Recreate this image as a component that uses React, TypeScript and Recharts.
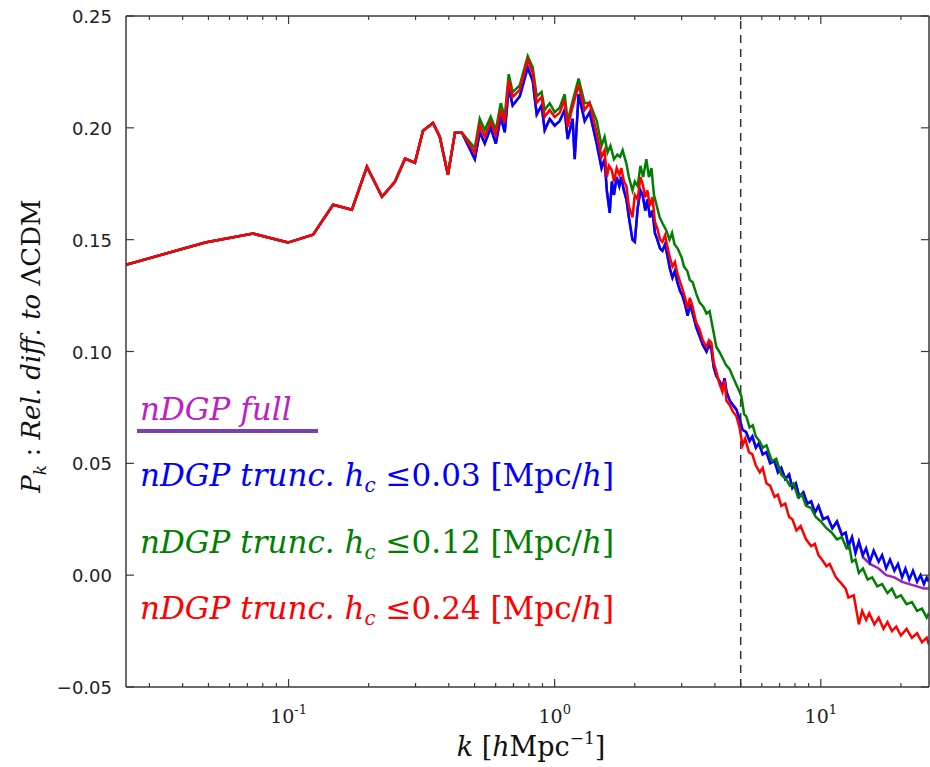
import { LineChart, Line, XAxis, YAxis, ReferenceLine } from "recharts";

type Pt = [number, number];

// k [h/Mpc], relative difference — identical for all runs at large scales
const sharedLowK: Pt[] = [
  [0.0245, 0.1388], [0.0486, 0.1487], [0.0736, 0.1527], [0.0995, 0.1487],
  [0.1236, 0.1522], [0.147, 0.1656], [0.173, 0.1634], [0.197, 0.1826],
  [0.2244, 0.1692], [0.251, 0.1759], [0.274, 0.1862], [0.2985, 0.1844],
  [0.32, 0.1987], [0.349, 0.2022], [0.37, 0.196], [0.397, 0.179],
  [0.422, 0.1978], [0.448, 0.1978],
];

const blueTail: Pt[] = [
  [0.501, 0.186], [0.523, 0.198], [0.546, 0.193], [0.575, 0.2], [0.601, 0.193],
  [0.627, 0.205], [0.649, 0.198], [0.672, 0.218], [0.695, 0.21], [0.739, 0.214],
  [0.792, 0.227], [0.827, 0.221], [0.856, 0.206], [0.893, 0.21], [0.917, 0.199],
  [0.958, 0.204], [1.0, 0.201], [1.044, 0.203], [1.09, 0.208], [1.119, 0.195],
  [1.168, 0.204], [1.189, 0.186], [1.23, 0.215], [1.296, 0.203], [1.353, 0.207],
  [1.438, 0.193], [1.5, 0.182], [1.54, 0.186], [1.57, 0.172], [1.61, 0.162],
  [1.64, 0.176], [1.67, 0.17], [1.71, 0.178], [1.75, 0.174], [1.78, 0.178],
  [1.82, 0.172], [1.86, 0.168], [1.9, 0.16], [1.96, 0.15], [2.0, 0.149],
  [2.05, 0.164], [2.1, 0.172], [2.14, 0.17], [2.19, 0.163], [2.23, 0.168],
  [2.28, 0.16], [2.33, 0.163], [2.38, 0.153], [2.43, 0.15], [2.49, 0.146],
  [2.54, 0.145], [2.6, 0.148], [2.65, 0.143], [2.71, 0.137], [2.77, 0.133],
  [2.83, 0.136], [2.89, 0.131], [2.96, 0.127], [3.02, 0.125], [3.09, 0.121],
  [3.16, 0.116], [3.22, 0.121], [3.3, 0.117], [3.4, 0.111], [3.5, 0.107],
  [3.6, 0.103], [3.72, 0.1], [3.8, 0.103], [3.88, 0.101], [3.96, 0.093],
  [4.05, 0.089], [4.15, 0.087], [4.27, 0.084], [4.35, 0.088], [4.42, 0.082],
  [4.55, 0.078], [4.68, 0.076], [4.82, 0.074], [4.95, 0.07], [5.08, 0.065],
  [5.24, 0.064], [5.4, 0.06], [5.53, 0.062], [5.7, 0.057], [5.85, 0.059],
  [6.05, 0.054], [6.25, 0.055], [6.45, 0.05], [6.7, 0.051], [6.9, 0.046],
  [7.1, 0.048], [7.35, 0.043], [7.6, 0.045], [7.82, 0.039], [8.06, 0.041],
  [8.3, 0.035], [8.6, 0.037], [8.9, 0.032], [9.2, 0.033], [9.5, 0.028],
  [9.8, 0.031], [10.2, 0.025], [10.6, 0.026], [11.05, 0.021], [11.5, 0.024],
  [12.0, 0.018], [12.4, 0.019], [12.7, 0.013], [13.1, 0.017], [13.5, 0.01],
  [13.9, 0.015], [14.4, 0.009], [14.8, 0.012], [15.3, 0.006], [15.8, 0.011],
  [16.5, 0.006], [17.0, 0.009], [17.6, 0.003], [18.2, 0.007], [18.9, 0.002],
  [19.5, 0.005], [20.2, -0.001], [20.8, 0.003], [21.5, -0.002], [22.2, 0.002],
  [23.0, -0.003], [23.7, 0.0], [24.4, -0.004], [25.0, -0.001], [25.5, -0.003],
];

// the full run sits under the blue curve; it only peeks out at the smallest scales
const fullEnd: Pt[] = [
  [14.4, 0.008], [15.3, 0.005], [16.5, 0.003], [17.6, 0.0], [18.9, -0.001],
  [20.2, -0.003], [21.5, -0.004], [23.0, -0.005], [24.4, -0.006], [25.5, -0.006],
];
const fullTail: Pt[] = [...blueTail.filter(([k]) => k < 14), ...fullEnd];

const greenTail: Pt[] = [
  [0.501, 0.191], [0.523, 0.204], [0.546, 0.199], [0.575, 0.205], [0.601, 0.199],
  [0.627, 0.211], [0.649, 0.205], [0.672, 0.224], [0.695, 0.216], [0.739, 0.219],
  [0.792, 0.232], [0.827, 0.227], [0.856, 0.214], [0.893, 0.216], [0.917, 0.208],
  [0.958, 0.211], [1.0, 0.207], [1.044, 0.209], [1.09, 0.215], [1.119, 0.203],
  [1.168, 0.212], [1.23, 0.222], [1.296, 0.211], [1.353, 0.2112], [1.44, 0.203],
  [1.5, 0.192], [1.54, 0.196], [1.58, 0.189], [1.62, 0.192], [1.67, 0.186],
  [1.72, 0.188], [1.76, 0.187], [1.8, 0.19], [1.86, 0.184], [1.9, 0.178],
  [1.96, 0.172], [2.0, 0.176], [2.05, 0.174], [2.1, 0.183], [2.15, 0.178],
  [2.21, 0.186], [2.26, 0.178], [2.31, 0.182], [2.36, 0.17], [2.42, 0.165],
  [2.48, 0.16], [2.55, 0.157], [2.63, 0.154], [2.7, 0.15], [2.76, 0.153],
  [2.82, 0.148], [2.9, 0.146], [3.0, 0.142], [3.06, 0.138], [3.15, 0.136],
  [3.22, 0.132], [3.3, 0.131], [3.4, 0.126], [3.5, 0.122], [3.62, 0.12],
  [3.72, 0.117], [3.82, 0.118], [3.92, 0.111], [4.05, 0.102], [4.15, 0.1],
  [4.28, 0.097], [4.4, 0.094], [4.55, 0.092], [4.66, 0.089], [4.82, 0.085],
  [4.95, 0.082], [5.03, 0.08], [5.15, 0.072], [5.25, 0.071], [5.4, 0.066],
  [5.55, 0.067], [5.7, 0.062], [5.88, 0.06], [6.05, 0.057], [6.25, 0.058],
  [6.55, 0.051], [6.8, 0.052], [7.1, 0.045], [7.4, 0.043], [7.65, 0.04],
  [7.9, 0.041], [8.2, 0.035], [8.5, 0.036], [8.8, 0.031], [9.2, 0.03],
  [9.57, 0.026], [10.0, 0.024], [10.5, 0.021], [11.0, 0.019], [11.5, 0.016],
  [12.0, 0.017], [12.5, 0.012], [12.8, 0.013], [13.1, 0.006], [13.5, 0.007],
  [13.9, 0.001], [14.4, 0.003], [15.0, -0.002], [15.6, -0.001], [16.3, -0.005],
  [17.0, -0.004], [17.8, -0.008], [18.5, -0.006], [19.2, -0.01], [20.0, -0.009],
  [21.0, -0.013], [22.0, -0.012], [23.0, -0.016], [24.0, -0.015], [25.0, -0.019],
  [25.5, -0.017],
];

const redTail: Pt[] = [
  [0.501, 0.1888], [0.523, 0.2013], [0.546, 0.196], [0.575, 0.2027], [0.601, 0.1969],
  [0.627, 0.208], [0.649, 0.2022], [0.672, 0.2214], [0.695, 0.2138], [0.739, 0.217],
  [0.792, 0.2304], [0.827, 0.2246], [0.856, 0.2112], [0.893, 0.2138], [0.917, 0.2049],
  [0.958, 0.208], [1.0, 0.2049], [1.044, 0.2067], [1.09, 0.2125], [1.119, 0.2004],
  [1.168, 0.2094], [1.23, 0.2192], [1.296, 0.208], [1.353, 0.2112], [1.438, 0.1978],
  [1.5, 0.187], [1.54, 0.19], [1.57, 0.178], [1.6, 0.183], [1.64, 0.181],
  [1.67, 0.176], [1.71, 0.182], [1.75, 0.179], [1.78, 0.182], [1.82, 0.176],
  [1.86, 0.174], [1.9, 0.165], [1.96, 0.16], [2.0, 0.17], [2.05, 0.168],
  [2.1, 0.178], [2.14, 0.175], [2.19, 0.169], [2.23, 0.172], [2.28, 0.165],
  [2.33, 0.169], [2.38, 0.158], [2.43, 0.155], [2.49, 0.15], [2.54, 0.149],
  [2.6, 0.152], [2.65, 0.147], [2.71, 0.142], [2.77, 0.138], [2.83, 0.14],
  [2.89, 0.135], [2.96, 0.131], [3.02, 0.128], [3.09, 0.124], [3.16, 0.119],
  [3.22, 0.124], [3.3, 0.12], [3.4, 0.113], [3.5, 0.11], [3.6, 0.105],
  [3.72, 0.102], [3.8, 0.105], [3.88, 0.104], [3.96, 0.095], [4.05, 0.091],
  [4.15, 0.086], [4.27, 0.082], [4.35, 0.087], [4.42, 0.078], [4.55, 0.076],
  [4.68, 0.073], [4.82, 0.071], [4.95, 0.066], [5.08, 0.058], [5.2, 0.061],
  [5.37, 0.055], [5.53, 0.054], [5.7, 0.049], [5.9, 0.046], [6.05, 0.048],
  [6.25, 0.041], [6.45, 0.04], [6.7, 0.035], [6.9, 0.036], [7.1, 0.031],
  [7.35, 0.032], [7.6, 0.026], [7.82, 0.025], [8.1, 0.02], [8.4, 0.022],
  [8.8, 0.016], [9.2, 0.013], [9.5, 0.014], [9.8, 0.009], [10.1, 0.007],
  [10.5, 0.004], [10.8, 0.005], [11.4, -0.001], [12.0, -0.004], [12.4, -0.006],
  [12.7, -0.01], [13.3, -0.009], [13.9, -0.022], [14.3, -0.016], [14.8, -0.02],
  [15.2, -0.017], [15.9, -0.022], [16.5, -0.019], [17.2, -0.024], [17.8, -0.021],
  [18.5, -0.025], [19.2, -0.023], [20.0, -0.027], [21.0, -0.024], [22.0, -0.028],
  [23.0, -0.026], [24.0, -0.03], [25.0, -0.028], [25.5, -0.031],
];

const kDomain: [number, number] = [0.0245, 25.5];
const yDomain: [number, number] = [-0.05, 0.25];
const yTicks = [-0.05, 0, 0.05, 0.1, 0.15, 0.2, 0.25];
const decadeTicks = [0.1, 1, 10];
const minorTicks = [
  0.03, 0.04, 0.05, 0.06, 0.07, 0.08, 0.09,
  0.2, 0.3, 0.4, 0.5, 0.6, 0.7, 0.8, 0.9,
  2, 3, 4, 5, 6, 7, 8, 9, 20,
];
const xTicks = [...decadeTicks, ...minorTicks].sort((a, b) => a - b);
const kCut = 5; // dashed vertical line

const AXIS = "#3a3a3a";
const SERIF = "'DejaVu Serif', 'Liberation Serif', serif";
const SANS = "'DejaVu Sans', sans-serif";

const rows = (tail: Pt[]) => [...sharedLowK, ...tail].map(([k, v]) => ({ k, v }));

function BottomTick({ x, y, payload }: any) {
  const major = decadeTicks.includes(payload.value);
  const exp = Math.round(Math.log10(payload.value));
  return (
    <g>
      <line x1={x} x2={x} y1={y} y2={y - (major ? 8 : 4)} stroke={AXIS} strokeWidth={1.2} />
      {major && (
        <text x={x} y={y + 36} textAnchor="middle" fontFamily={SERIF} fontSize={19} fill="#222">
          10
          <tspan dy={-9} fontSize={13}>{exp}</tspan>
        </text>
      )}
    </g>
  );
}

function TopTick({ x, y, payload }: any) {
  const major = decadeTicks.includes(payload.value);
  return <line x1={x} x2={x} y1={y} y2={y + (major ? 8 : 4)} stroke={AXIS} strokeWidth={1.2} />;
}

function LeftTick({ x, y, payload }: any) {
  const v: number = payload.value;
  const label = (v < 0 ? "\u2212" : "") + Math.abs(v).toFixed(2);
  return (
    <g>
      <line x1={x} x2={x + 8} y1={y} y2={y} stroke={AXIS} strokeWidth={1.2} />
      <text x={x - 14} y={y + 7} textAnchor="end" fontFamily={SANS} fontSize={18} fill="#222">
        {label}
      </text>
    </g>
  );
}

function RightTick({ x, y }: any) {
  return <line x1={x} x2={x - 8} y1={y} y2={y} stroke={AXIS} strokeWidth={1.2} />;
}

const legend = [
  { color: "#0000ff", value: "0.03" },
  { color: "#008000", value: "0.12" },
  { color: "#ff0000", value: "0.24" },
];

export default function App() {
  return (
    <div style={{ position: "absolute", left: 0, top: 0, width: 930, height: 767, background: "#fff" }}>
      <LineChart width={930} height={767} margin={{ top: 0, right: 0, bottom: 0, left: 0 }}>
        <XAxis
          dataKey="k"
          type="number"
          scale="log"
          domain={kDomain}
          allowDataOverflow
          ticks={xTicks}
          interval={0}
          height={80}
          tickSize={0}
          tickMargin={0}
          tickLine={false}
          tick={<BottomTick />}
          axisLine={{ stroke: AXIS, strokeWidth: 1.5 }}
        />
        <XAxis
          xAxisId="top"
          orientation="top"
          dataKey="k"
          type="number"
          scale="log"
          domain={kDomain}
          allowDataOverflow
          ticks={xTicks}
          interval={0}
          height={16}
          tickSize={0}
          tickMargin={0}
          tickLine={false}
          tick={<TopTick />}
          axisLine={{ stroke: AXIS, strokeWidth: 1.5 }}
        />
        <YAxis
          type="number"
          domain={yDomain}
          allowDataOverflow
          ticks={yTicks}
          interval={0}
          width={126}
          tickSize={0}
          tickMargin={0}
          tickLine={false}
          tick={<LeftTick />}
          axisLine={{ stroke: AXIS, strokeWidth: 1.5 }}
        />
        <YAxis
          yAxisId="right"
          orientation="right"
          type="number"
          domain={yDomain}
          allowDataOverflow
          ticks={yTicks}
          interval={0}
          width={1}
          tickSize={0}
          tickMargin={0}
          tickLine={false}
          tick={<RightTick />}
          axisLine={{ stroke: AXIS, strokeWidth: 1.5 }}
        />
        <ReferenceLine x={kCut} stroke="#333" strokeWidth={1.5} strokeDasharray="8 6" />
        <Line data={rows(fullTail)} dataKey="v" stroke="#a020c0" strokeWidth={2.5} dot={false} isAnimationActive={false} />
        <Line data={rows(blueTail)} dataKey="v" stroke="#0000ff" strokeWidth={2.5} dot={false} isAnimationActive={false} />
        <Line data={rows(greenTail)} dataKey="v" stroke="#008000" strokeWidth={2.5} dot={false} isAnimationActive={false} />
        <Line data={rows(redTail)} dataKey="v" stroke="#ff0000" strokeWidth={2.5} dot={false} isAnimationActive={false} />
      </LineChart>

      <svg width={930} height={767} style={{ position: "absolute", left: 0, top: 0, pointerEvents: "none" }}>
        {/* axis titles */}
        <text
          transform="translate(40, 346) rotate(-90)"
          textAnchor="middle"
          fontFamily={SERIF}
          fontSize={26}
          fill="#111"
        >
          <tspan fontStyle="italic">P</tspan>
          <tspan fontStyle="italic" fontSize={17} dy={6}>k</tspan>
          <tspan dy={-6}> : </tspan>
          <tspan fontStyle="italic">Rel. diff. to </tspan>
          <tspan>ΛCDM</tspan>
        </text>
        <text x={531} y={756} textAnchor="middle" fontFamily={SERIF} fontSize={27} fill="#111">
          <tspan fontStyle="italic">k</tspan>
          <tspan> [</tspan>
          <tspan fontStyle="italic">h</tspan>
          <tspan>Mpc</tspan>
          <tspan fontSize={17} dy={-12}>−1</tspan>
          <tspan dy={12}>]</tspan>
        </text>

        {/* legend */}
        <text x={140} y={420} fontFamily={SERIF} fontSize={31} fontStyle="italic" fill="#c020c0">
          nDGP full
        </text>
        <line x1={137} x2={318} y1={431} y2={431} stroke="#7b3fb0" strokeWidth={4} />
        {legend.map((d, i) => (
          <text key={d.value} x={140} y={486 + i * 66.5} fontFamily={SERIF} fontSize={31} fill={d.color}>
            <tspan fontStyle="italic">nDGP trunc. h</tspan>
            <tspan fontStyle="italic" fontSize={20} dy={6}>c</tspan>
            <tspan dy={-6}> ≤{d.value} [Mpc/</tspan>
            <tspan fontStyle="italic">h</tspan>
            <tspan>]</tspan>
          </text>
        ))}
      </svg>
    </div>
  );
}
